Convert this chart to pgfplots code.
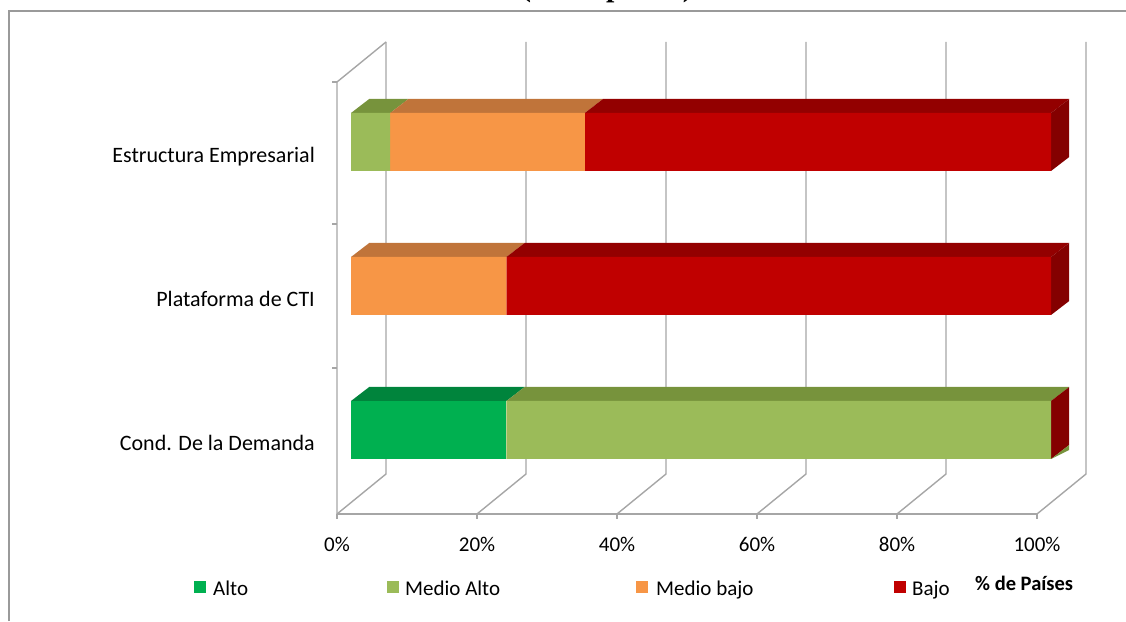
\documentclass[border=0pt]{standalone}
\usepackage{pgfplots}
\pgfplotsset{compat=1.18}
\usepackage{fontspec}
\setmainfont{Carlito}
\newfontfamily\titlefont{Liberation Serif}
\definecolor{alto}{HTML}{00B050}
\definecolor{altotop}{HTML}{00843C}
\definecolor{malto}{HTML}{9BBB59}
\definecolor{maltotop}{HTML}{77933C}
\definecolor{mbajo}{HTML}{F79646}
\definecolor{mbajotop}{HTML}{C0743A}
\definecolor{bajo}{HTML}{C00000}
\definecolor{bajotop}{HTML}{930000}
\definecolor{gridc}{HTML}{A6A6A6}
\definecolor{framec}{HTML}{9A9A9A}
\begin{document}
\begin{tikzpicture}[x=1pt,y=1pt]
\path[use as bounding box] (0,0) rectangle (1126,621);
% frame
\draw[framec,line width=1.5pt] (9,0) -- (9,610) -- (1126,610);
% clipped title (only its lowest part is visible, as in the reference)
\begin{scope}
\clip (0,0) rectangle (1126,621);
\node[anchor=base,font=\titlefont\bfseries\fontsize{30}{34}\selectfont] at (607,624.5) {(\% de países)};
\end{scope}
% ---------- walls and 3D faces ----------
\begin{axis}[
  x=7pt, y=1pt, xmin=0, xmax=107, ymin=0, ymax=479,
  hide axis, clip=false,
  at={(337pt,107pt)}, anchor=south west]
  \foreach \p in {0,20,40,60,80,100}{
    \edef\tmp{\noexpand\draw[gridc,line width=1.4pt] (axis cs:\p,0) -- (axis cs:\p+7,40) -- (axis cs:\p+7,472);}
    \tmp
  }
  \draw[gridc,line width=1.4pt] (axis cs:0,0) -- (axis cs:0,432) -- (axis cs:7,472);
  \draw[gridc,line width=1.4pt] (axis cs:0,0) -- (axis cs:100,0);
  \foreach \yy in {146,290,432}{
    \edef\tmp{\noexpand\draw[gridc,line width=1.2pt] (axis cs:0,\yy) -- ++(-5pt,0);}
    \tmp
  }
  \foreach \p in {0,20,40,60,80,100}{
    \edef\tmp{\noexpand\draw[gridc,line width=1.2pt] (axis cs:\p,0) -- ++(0,-5pt);}
    \tmp
  }
  % top faces: Estructura Empresarial
  \addplot[fill=maltotop,draw=none] coordinates {(2,401) (7.6,401) (10.2,415) (4.6,415)} -- cycle;
  \addplot[fill=mbajotop,draw=none] coordinates {(7.6,401) (35.4,401) (38,415) (10.2,415)} -- cycle;
  \addplot[fill=bajotop,draw=none] coordinates {(35.4,401) (102,401) (104.6,415) (38,415)} -- cycle;
  \addplot[fill=bajotop!90!black,draw=none] coordinates {(102,343) (102,401) (104.6,415) (104.6,357)} -- cycle;
  % Plataforma de CTI
  \addplot[fill=mbajotop,draw=none] coordinates {(2,257) (24.2,257) (26.8,271) (4.6,271)} -- cycle;
  \addplot[fill=bajotop,draw=none] coordinates {(24.2,257) (102,257) (104.6,271) (26.8,271)} -- cycle;
  \addplot[fill=bajotop!90!black,draw=none] coordinates {(102,199) (102,257) (104.6,271) (104.6,213)} -- cycle;
  % Cond. De la Demanda
  \addplot[fill=altotop,draw=none] coordinates {(2,113) (24.2,113) (26.8,127) (4.6,127)} -- cycle;
  \addplot[fill=maltotop,draw=none] coordinates {(24.2,113) (102,113) (104.6,127) (26.8,127)} -- cycle;
  \addplot[fill=bajotop!90!black,draw=none] coordinates {(102,55) (102,113) (104.6,127) (104.6,69)} -- cycle;
  \addplot[fill=maltotop,draw=none] coordinates {(102,55) (104.6,69) (104.6,64)} -- cycle;
\end{axis}
% ---------- front faces (stacked bars) ----------
\begin{axis}[
  x=7pt, y=1pt, xmin=0, xmax=107, ymin=0, ymax=479,
  at={(337pt,107pt)}, anchor=south west, clip=false,
  xbar stacked, bar width=58,
  axis line style={draw=none},
  major tick length=0pt,
  xtick={0,20,40,60,80,100},
  xticklabels={0\%,20\%,40\%,60\%,80\%,100\%},
  ytick={72,216,360},
  yticklabels={Cond. De la Demanda,Plataforma de CTI,Estructura Empresarial},
  xtick pos=bottom, ytick pos=left,
  tick label style={inner sep=0pt},
  xticklabel style={font=\fontsize{21}{25}\selectfont, anchor=base, yshift=-37.7pt},
  yticklabel style={font=\fontsize{22}{26}\selectfont, anchor=base east, xshift=-22pt, yshift=-8.3pt},
  ]
  \addplot[draw=none,fill=none,forget plot] coordinates {(2,84) (2,228) (2,372)};
  \addplot[fill=alto,draw=none] coordinates {(22.2,84) (0,228) (0,372)};
  \addplot[fill=malto,draw=none] coordinates {(77.8,84) (0,228) (5.6,372)};
  \addplot[fill=mbajo,draw=none] coordinates {(0,84) (22.2,228) (27.8,372)};
  \addplot[fill=bajo,draw=none] coordinates {(0,84) (77.8,228) (66.6,372)};
\end{axis}
% ---------- legend ----------
\begin{scope}[font=\fontsize{21}{25}\selectfont]
\fill[alto] (194,28) rectangle (206,40);
\node[anchor=base west,inner sep=0pt] at (213,26) {Alto};
\fill[malto] (387,28) rectangle (399,40);
\node[anchor=base west,inner sep=0pt] at (405,26) {Medio Alto};
\fill[mbajo] (636,28) rectangle (648,40);
\node[anchor=base west,inner sep=0pt] at (656,26) {Medio bajo};
\fill[bajo] (894,28) rectangle (906,40);
\node[anchor=base west,inner sep=0pt] at (912,26) {Bajo};
\node[anchor=base west,inner sep=0pt,font=\bfseries\fontsize{20.5}{24}\selectfont] at (975,31) {\% de Países};
\end{scope}
\end{tikzpicture}
\end{document}
